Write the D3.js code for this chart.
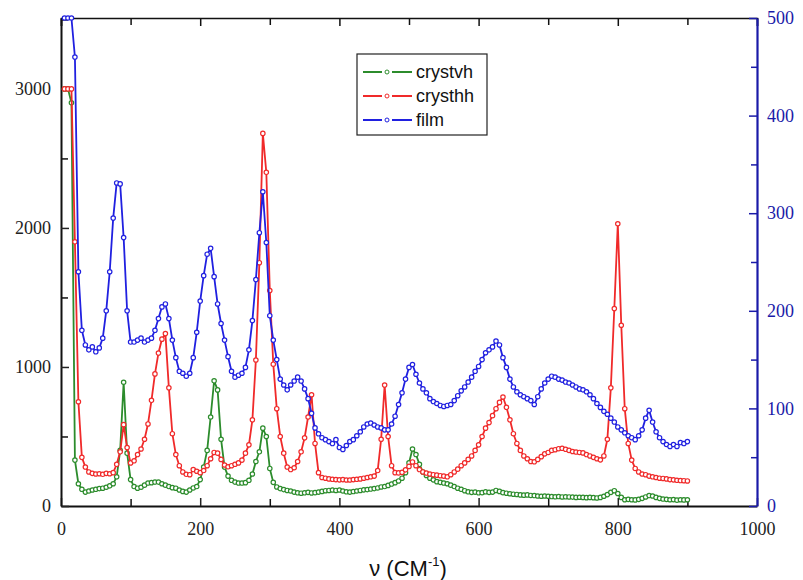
<!DOCTYPE html>
<html><head><meta charset="utf-8">
<script src="https://cdn.jsdelivr.net/npm/d3@7"></script>
<style>body{margin:0;background:#fff}</style>
</head><body><svg id="c" width="803" height="580"></svg>
<script>
const wavenumber = [
5,10,15,20,25,30,35,40,45,50,
55,60,65,70,75,80,85,90,95,100,
105,110,115,120,125,130,135,140,145,150,
155,160,165,170,175,180,185,190,195,200,
205,210,215,220,225,230,235,240,245,250,
255,260,265,270,275,280,285,290,295,300,
305,310,315,320,325,330,335,340,345,350,
355,360,365,370,375,380,385,390,395,400,
405,410,415,420,425,430,435,440,445,450,
455,460,465,470,475,480,485,490,495,500,
505,510,515,520,525,530,535,540,545,550,
555,560,565,570,575,580,585,590,595,600,
605,610,615,620,625,630,635,640,645,650,
655,660,665,670,675,680,685,690,695,700,
705,710,715,720,725,730,735,740,745,750,
755,760,765,770,775,780,785,790,795,800,
805,810,815,820,825,830,835,840,845,850,
855,860,865,870,875,880,885,890,895,900];

const crystvh = [
3000,3000,2900,330,160,120,100,108,115,120,
125,128,135,145,160,210,400,890,380,190,
140,128,135,150,165,168,172,172,160,150,
140,132,128,115,105,100,115,130,140,190,
280,400,640,900,835,480,280,215,185,172,
165,165,168,185,230,320,390,560,500,270,
170,137,125,118,112,108,100,95,92,95,
98,94,96,100,105,110,112,115,112,115,
108,102,100,104,108,112,116,118,122,125,
130,137,140,148,158,168,180,200,240,310,
410,370,300,245,220,200,188,175,170,165,
160,150,140,128,120,110,102,98,100,95,
96,102,98,100,112,105,96,92,88,85,
83,80,78,80,76,75,72,70,72,70,
68,66,68,65,66,65,64,62,63,62,
60,62,60,58,62,70,82,98,110,90,
62,45,48,45,44,48,55,65,75,72,
62,55,50,48,45,46,42,45,44,45];

const crysthh = [
3000,3000,3000,1900,750,350,280,245,235,230,
232,228,235,232,240,300,390,585,420,310,
325,370,410,480,590,760,950,1100,1200,1240,
850,520,370,290,245,228,225,262,250,240,
255,290,340,385,380,335,295,282,290,300,
310,330,380,440,620,1050,1750,2680,2400,1550,
1020,700,500,380,280,262,275,320,390,490,
640,800,450,240,205,200,195,192,190,188,
190,187,187,190,192,195,200,205,210,215,
255,480,870,500,290,240,238,242,260,285,
317,290,262,245,237,230,225,222,218,215,
210,225,245,265,290,310,335,360,400,440,
500,560,600,650,700,745,784,710,620,520,
450,400,360,340,320,318,335,355,375,385,
400,405,412,415,408,400,392,388,385,382,
370,360,350,340,332,360,480,850,1420,2030,
1300,700,450,330,270,245,230,225,215,210,
205,200,198,195,190,188,185,183,182,180];

const film = [
600,580,540,460,240,180,165,160,163,158,
162,172,200,240,295,331,330,275,200,168,
168,170,172,168,170,172,180,192,204,207,
192,170,152,138,136,133,136,152,178,210,
236,258,264,235,207,187,170,153,138,132,
134,136,142,160,190,232,280,322,270,195,
170,150,130,124,119,124,128,132,128,120,
110,95,80,74,70,68,66,64,68,60,
58,62,66,68,72,76,81,84,85,83,
81,80,78,78,84,92,104,116,130,142,
145,135,126,120,116,110,107,105,103,102,
103,104,108,113,118,122,127,132,138,143,
150,157,160,163,169,165,152,142,130,122,
117,114,112,110,108,104,112,120,126,130,
133,132,130,129,127,126,124,122,120,119,
117,114,110,105,101,97,94,90,86,81,
78,75,72,70,68,72,78,90,98,86,
76,70,66,63,61,63,61,65,64,66];

const seriesNames = ["crystvh", "crysthh", "film"];
const seriesColors = ["#2c8c2c", "#f02a2a", "#2020e0"];
const xMajorTicks = [0, 200, 400, 600, 800, 1000];
const xMinorTicks = [100, 300, 500, 700, 900];
const leftMajorTicks = [0, 1000, 2000, 3000];
const leftMinorTicks = [500, 1500, 2500, 3500];
const rightMajorTicks = [0, 100, 200, 300, 400, 500];
const rightMinorTicks = [50, 150, 250, 350, 450];
const xTitle = "ν (CM";
const xTitleSup = "-1";

const W = 803, H = 580, m = {l: 61, r: 46, t: 18, b: 74};
const svg = d3.select("#c");
const x = d3.scaleLinear().domain([0, 1000]).range([m.l, W - m.r]);
const yL = d3.scaleLinear().domain([0, 3510]).range([H - m.b, m.t]).clamp(true);
const yR = d3.scaleLinear().domain([0, 500]).range([H - m.b, m.t]).clamp(true);
const axisColor = "#111";
const rightColor = "#1a1aa8";
const numFont = "Liberation Serif, Times New Roman, serif";
const fmt = d3.format("d");

function styleAxis(g, color, fontSize) {
  g.attr("font-family", numFont).attr("font-size", fontSize);
  g.selectAll(".tick line").attr("stroke", color).attr("stroke-width", 1.5);
  g.selectAll(".tick text").attr("fill", color);
}

const minorFmt = () => "";
svg.append("g").attr("transform", `translate(0,${H - m.b})`)
  .call(d3.axisBottom(x).tickValues(xMinorTicks).tickSize(-7).tickFormat(minorFmt))
  .call(g => { g.select(".domain").remove(); styleAxis(g, axisColor, 12); });
svg.append("g").attr("transform", `translate(0,${m.t})`)
  .call(d3.axisTop(x).tickValues(xMinorTicks).tickSize(-7).tickFormat(minorFmt))
  .call(g => { g.select(".domain").remove(); styleAxis(g, axisColor, 12); });
svg.append("g").attr("transform", `translate(${m.l},0)`)
  .call(d3.axisLeft(yL).tickValues(leftMinorTicks).tickSize(-7).tickFormat(minorFmt))
  .call(g => { g.select(".domain").remove(); styleAxis(g, axisColor, 12); });
svg.append("g").attr("transform", `translate(${W - m.r},0)`)
  .call(d3.axisRight(yR).tickValues(rightMinorTicks).tickSize(-6).tickFormat(minorFmt))
  .call(g => { g.select(".domain").remove(); styleAxis(g, rightColor, 12); });

svg.append("g").attr("transform", `translate(0,${m.t})`)
  .call(d3.axisTop(x).tickValues(xMajorTicks).tickSize(-8).tickFormat(minorFmt))
  .call(g => { g.select(".domain").attr("stroke", axisColor).attr("stroke-width", 1.5); styleAxis(g, axisColor, 12); });

svg.append("g").attr("transform", `translate(0,${H - m.b})`)
  .call(d3.axisBottom(x).tickValues(xMajorTicks).tickSize(-8).tickPadding(16).tickSizeOuter(0).tickFormat(fmt))
  .call(g => { g.select(".domain").attr("stroke", axisColor).attr("stroke-width", 2); styleAxis(g, "#222", 18); });

svg.append("g").attr("transform", `translate(${m.l},0)`)
  .call(d3.axisLeft(yL).tickValues(leftMajorTicks).tickSize(-8).tickPadding(10).tickSizeOuter(0).tickFormat(fmt))
  .call(g => { g.select(".domain").attr("stroke", axisColor).attr("stroke-width", 2); styleAxis(g, "#222", 18); });

svg.append("g").attr("transform", `translate(${W - m.r},0)`)
  .call(d3.axisRight(yR).tickValues(rightMajorTicks).tickSize(-8).tickPadding(10).tickSizeOuter(0).tickFormat(fmt))
  .call(g => { g.select(".domain").attr("stroke", rightColor).attr("stroke-width", 2.2); styleAxis(g, rightColor, 18); });

const seriesValues = [crystvh, crysthh, film];
const seriesScales = [yL, yL, yR];
seriesValues.forEach((vals, i) => {
  const pts = wavenumber.map((w, k) => [w, vals[k]]);
  const ys = seriesScales[i];
  const line = d3.line().x(d => x(d[0])).y(d => ys(d[1]));
  const g = svg.append("g");
  g.append("path").datum(pts).attr("d", line).attr("fill", "none")
    .attr("stroke", seriesColors[i]).attr("stroke-width", 1.8).attr("stroke-linejoin", "round");
  g.selectAll("circle").data(pts).join("circle")
    .attr("cx", d => x(d[0])).attr("cy", d => ys(d[1])).attr("r", 2.2)
    .attr("fill", "#fff").attr("stroke", seriesColors[i]).attr("stroke-width", 1.2);
});

const lg = svg.append("g");
lg.append("rect").attr("x", 357).attr("y", 54).attr("width", 130).attr("height", 81)
  .attr("fill", "#fff").attr("stroke", "#222").attr("stroke-width", 1.2);
seriesNames.forEach((n, i) => {
  const yy = 72 + i * 24;
  lg.append("line").attr("x1", 363).attr("x2", 382).attr("y1", yy).attr("y2", yy).attr("stroke", seriesColors[i]).attr("stroke-width", 2);
  lg.append("line").attr("x1", 392).attr("x2", 412).attr("y1", yy).attr("y2", yy).attr("stroke", seriesColors[i]).attr("stroke-width", 2);
  lg.append("circle").attr("cx", 387).attr("cy", yy).attr("r", 2).attr("fill", "#fff").attr("stroke", seriesColors[i]).attr("stroke-width", 1);
  lg.append("text").attr("x", 416).attr("y", yy).attr("dy", "0.35em").text(n)
    .attr("font-family", "Liberation Sans, Arial, sans-serif").attr("font-size", 18).attr("fill", "#111");
});

const t = svg.append("text").attr("x", 408).attr("y", 576).attr("text-anchor", "middle")
  .attr("font-family", "Liberation Sans, Arial, sans-serif").attr("font-size", 22).attr("fill", "#111");
t.append("tspan").text(xTitle);
t.append("tspan").attr("dy", -10).attr("font-size", 13).text(xTitleSup);
t.append("tspan").attr("dy", 10).text(")");
</script>
</body></html>
